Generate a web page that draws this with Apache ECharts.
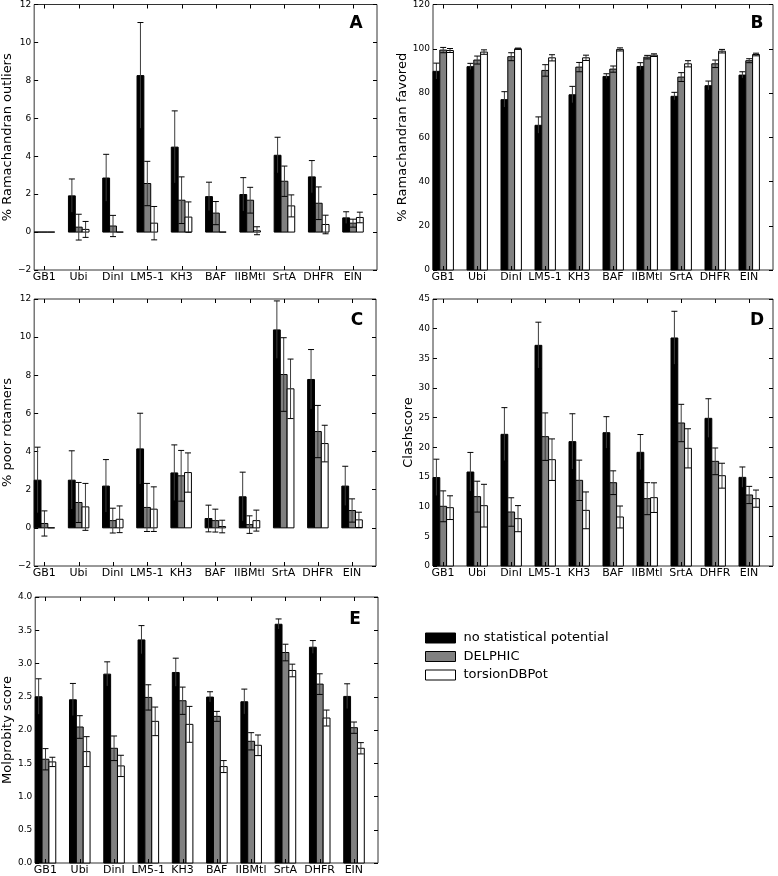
<!DOCTYPE html>
<html>
<head>
<meta charset="utf-8">
<script src="https://cdn.jsdelivr.net/npm/echarts@6/dist/echarts.min.js"></script>
<style>
html,body{margin:0;padding:0;background:#fff;}
#chart{width:778px;height:876px;}
</style>
</head>
<body>
<div id="chart"></div>
<script>
// ---- data ----
const categories = ['GB1','Ubi','DinI','LM5-1','KH3','BAF','IIBMtl','SrtA','DHFR','EIN'];
const seriesNames = ['no statistical potential','DELPHIC','torsionDBPot'];

// A: % Ramachandran outliers
const ramaOutNone        = [0, 1.91, 2.85, 8.25, 4.48, 1.87, 1.98, 4.05, 2.91, 0.75];
const ramaOutNoneErr     = [0, 0.89, 1.25, 2.80, 1.91, 0.76, 0.89, 0.95, 0.86, 0.32];
const ramaOutDelphic     = [0, 0.26, 0.32, 2.56, 1.68, 1.00, 1.68, 2.68, 1.52, 0.47];
const ramaOutDelphicErr  = [0, 0.68, 0.56, 1.17, 1.23, 0.61, 0.68, 0.80, 0.86, 0.21];
const ramaOutTorsion     = [0, 0.14, 0, 0.47, 0.79, 0, 0.07, 1.38, 0.40, 0.77];
const ramaOutTorsionErr  = [0, 0.42, 0, 0.88, 0.80, 0, 0.21, 0.58, 0.49, 0.28];

// B: % Ramachandran favored
const ramaFavNone        = [89.8, 91.9, 77.0, 65.4, 79.2, 87.5, 92.0, 78.5, 83.3, 88.1];
const ramaFavNoneErr     = [3.7, 1.5, 3.6, 3.8, 3.8, 1.2, 1.7, 1.8, 2.1, 1.5];
const ramaFavDelphic     = [99.4, 94.9, 96.4, 90.2, 91.7, 90.8, 96.2, 87.2, 93.2, 94.6];
const ramaFavDelphicErr  = [1.2, 1.8, 1.8, 2.6, 2.1, 1.4, 0.8, 2.0, 1.7, 0.9];
const ramaFavTorsion     = [99.2, 98.5, 100.0, 95.9, 95.9, 99.7, 97.1, 93.2, 98.9, 97.4];
const ramaFavTorsionErr  = [0.9, 1.0, 0.3, 1.4, 1.2, 0.7, 0.6, 1.4, 0.8, 0.6];

// C: % poor rotamers
const rotNone            = [2.50, 2.50, 2.19, 4.14, 2.88, 0.49, 1.63, 10.38, 7.78, 2.19];
const rotNoneErr         = [1.73, 1.54, 1.39, 1.87, 1.47, 0.70, 1.29, 1.52, 1.57, 1.04];
const rotDelphic         = [0.23, 1.33, 0.38, 1.07, 2.73, 0.38, 0.17, 8.04, 5.05, 0.91];
const rotDelphicErr      = [0.66, 1.05, 0.65, 1.26, 1.33, 0.60, 0.46, 1.93, 1.37, 0.61];
const rotTorsion         = [0, 1.10, 0.45, 0.98, 2.90, 0.07, 0.38, 7.29, 4.42, 0.42];
const rotTorsionErr      = [0, 1.23, 0.70, 1.17, 1.03, 0.33, 0.55, 1.56, 0.96, 0.40];

// D: Clashscore
const clashNone          = [14.9, 15.84, 22.19, 37.19, 20.96, 22.47, 19.16, 38.43, 24.89, 14.94];
const clashNoneErr       = [3.1, 3.3, 4.5, 3.9, 4.7, 2.7, 3.0, 4.5, 3.3, 1.75];
const clashDelphic       = [10.06, 11.69, 9.1, 21.8, 14.44, 14.04, 11.35, 24.1, 17.64, 11.97];
const clashDelphicErr    = [2.6, 2.6, 2.4, 4.0, 3.4, 2.0, 2.7, 3.15, 2.25, 1.45];
const clashTorsion       = [9.83, 10.17, 7.98, 17.92, 9.38, 8.26, 11.52, 19.83, 15.22, 11.35];
const clashTorsionErr    = [2.0, 3.6, 2.2, 3.5, 3.1, 1.85, 2.5, 3.3, 2.1, 1.45];

// E: Molprobity score
const molNone            = [2.50, 2.455, 2.84, 3.355, 2.865, 2.495, 2.425, 3.59, 3.245, 2.505];
const molNoneErr         = [0.27, 0.245, 0.185, 0.215, 0.215, 0.08, 0.19, 0.08, 0.10, 0.19];
const molDelphic         = [1.56, 2.045, 1.725, 2.49, 2.44, 2.205, 1.83, 3.165, 2.69, 2.035];
const molDelphicErr      = [0.16, 0.17, 0.185, 0.19, 0.205, 0.075, 0.13, 0.125, 0.155, 0.085];
const molTorsion         = [1.52, 1.675, 1.46, 2.13, 2.085, 1.45, 1.77, 2.895, 2.18, 1.725];
const molTorsionErr      = [0.07, 0.225, 0.16, 0.215, 0.27, 0.09, 0.155, 0.095, 0.12, 0.085];

// ---- layout / style ----
const fills = ['#000000', '#808080', '#ffffff'];
const FONT = 'DejaVu Sans';

const panels = [
  {grid:{left:33, top:4, width:344, height:266}, min:-2, max:12, interval:2, dec:0,
   name:'% Ramachandran outliers', nameGap:9, letter:'A', lx:356, ly:24,
   vals:[ramaOutNone, ramaOutDelphic, ramaOutTorsion], errs:[ramaOutNoneErr, ramaOutDelphicErr, ramaOutTorsionErr]},
  {grid:{left:433, top:4, width:340, height:266}, min:0, max:120, interval:20, dec:0,
   name:'% Ramachandran favored', nameGap:15, letter:'B', lx:757, ly:24,
   vals:[ramaFavNone, ramaFavDelphic, ramaFavTorsion], errs:[ramaFavNoneErr, ramaFavDelphicErr, ramaFavTorsionErr]},
  {grid:{left:33, top:299, width:343, height:267}, min:-2, max:12, interval:2, dec:0,
   name:'% poor rotamers', nameGap:11, letter:'C', lx:357, ly:321,
   vals:[rotNone, rotDelphic, rotTorsion], errs:[rotNoneErr, rotDelphicErr, rotTorsionErr]},
  {grid:{left:433, top:299, width:340, height:267}, min:0, max:45, interval:5, dec:0,
   name:'Clashscore', nameGap:9, letter:'D', lx:757, ly:321,
   vals:[clashNone, clashDelphic, clashTorsion], errs:[clashNoneErr, clashDelphicErr, clashTorsionErr]},
  {grid:{left:33, top:597, width:345, height:267}, min:0, max:4, interval:0.5, dec:1,
   name:'Molprobity score', nameGap:18, letter:'E', lx:355, ly:620,
   vals:[molNone, molDelphic, molTorsion], errs:[molNoneErr, molDelphicErr, molTorsionErr]}
];

function barRender(k) {
  return function (params, api) {
    const i = api.value(0), v = api.value(1), e = api.value(2);
    const slot = api.size([1, 0])[0];
    const bw = slot * 0.2;
    const cBase = api.coord([i, 0]);
    const cTop = api.coord([i, v]);
    const x0 = cBase[0] - slot / 2 + k * bw;
    const y0 = Math.min(cBase[1], cTop[1]);
    const h = Math.abs(cBase[1] - cTop[1]);
    const children = [{
      type: 'rect',
      shape: {x: x0, y: y0, width: bw, height: h},
      style: {fill: fills[k], stroke: '#000', lineWidth: 1}
    }];
    if (e > 0) {
      const xc = x0 + bw / 2;
      const yt = api.coord([i, v + e])[1];
      const yb = api.coord([i, v - e])[1];
      const cap = 3;
      children.push({type:'line', shape:{x1:xc, y1:yt, x2:xc, y2:yb}, style:{stroke:'#3c3c3c', lineWidth:1}});
      children.push({type:'line', shape:{x1:xc-cap, y1:yt, x2:xc+cap, y2:yt}, style:{stroke:'#000', lineWidth:1}});
      children.push({type:'line', shape:{x1:xc-cap, y1:yb, x2:xc+cap, y2:yb}, style:{stroke:'#000', lineWidth:1}});
    }
    return {type: 'group', children: children};
  };
}

function tickRender(p) {
  return function (params, api) {
    const i = api.value(0);
    const slot = api.size([1, 0])[0];
    const c = api.coord([i, p.max]);
    const b = api.coord([i, p.min]);
    const x = Math.round(c[0] - slot / 2 + 0.3 * slot) + 0.5;
    return {type:'group', children:[
      {type:'line', shape:{x1:x, y1:c[1], x2:x, y2:c[1] + 4}, style:{stroke:'#000', lineWidth:1}},
      {type:'line', shape:{x1:x, y1:b[1], x2:x, y2:b[1] - 4}, style:{stroke:'#000', lineWidth:1}}
    ]};
  };
}

const grids = [], xAxes = [], yAxes = [], series = [], graphics = [];
panels.forEach((p, gi) => {
  grids.push(Object.assign({show: true, borderColor: '#333', borderWidth: 1, backgroundColor: '#fff'}, p.grid));
  xAxes.push({
    type: 'category', gridIndex: gi, data: categories, boundaryGap: true,
    axisLine: {show: false}, axisTick: {show: false}, splitLine: {show: false},
    axisLabel: {interval: 0, fontSize: 11, fontFamily: FONT, color: '#000', margin: 2, padding: [0, 14, 0, 0]}
  });
  const fmt = v => (p.dec ? v.toFixed(p.dec) : String(v)).replace('-', '\u2212');
  yAxes.push({
    type: 'value', gridIndex: gi, min: p.min, max: p.max, interval: p.interval, position: 'left',
    name: p.name, nameLocation: 'middle', nameGap: p.nameGap,
    nameTextStyle: {fontSize: 13, fontFamily: FONT, color: '#000'},
    axisLine: {show: false}, splitLine: {show: false},
    axisTick: {show: true, inside: true, length: 4, lineStyle: {color: '#000'}},
    axisLabel: {fontSize: 9, fontFamily: FONT, color: '#000', margin: 3, formatter: fmt}
  });
  yAxes.push({
    type: 'value', gridIndex: gi, min: p.min, max: p.max, interval: p.interval, position: 'right',
    axisLine: {show: false}, splitLine: {show: false}, axisLabel: {show: false},
    axisTick: {show: true, inside: true, length: 4, lineStyle: {color: '#000'}}
  });
  for (let k = 0; k < 3; k++) {
    series.push({
      type: 'custom', name: seriesNames[k], xAxisIndex: gi, yAxisIndex: gi * 2,
      renderItem: barRender(k), encode: {x: 0, y: 1},
      itemStyle: {color: fills[k], borderColor: '#000', borderWidth: 1},
      data: p.vals[k].map((v, i) => [i, v, p.errs[k][i]]),
      z: 2
    });
  }
  series.push({
    type: 'custom', name: 'ticks' + gi, xAxisIndex: gi, yAxisIndex: gi * 2,
    renderItem: tickRender(p), encode: {x: 0},
    data: categories.map((c, i) => [i]), silent: true, z: 3
  });
  graphics.push({
    type: 'text', x: p.lx, y: p.ly, z: 10,
    style: {text: p.letter, align: 'center', verticalAlign: 'middle', font: 'bold 17px "DejaVu Sans"', fill: '#000'}
  });
});

const chart = echarts.init(document.getElementById('chart'), null, {renderer: 'canvas'});
chart.setOption({
  animation: false,
  backgroundColor: '#fff',
  grid: grids,
  xAxis: xAxes,
  yAxis: yAxes,
  series: series,
  graphic: graphics,
  legend: {
    orient: 'vertical', left: 425, top: 631, padding: 0,
    itemWidth: 30, itemHeight: 10, itemGap: 4.5, selectedMode: false,
    textStyle: {fontSize: 13, fontFamily: FONT, color: '#000', padding: [0, 0, 0, 3], lineHeight: 14},
    data: seriesNames.map((n, k) => ({name: n, icon: 'rect', itemStyle: {color: fills[k], borderColor: '#000', borderWidth: 1}}))
  }
});
</script>
</body>
</html>
